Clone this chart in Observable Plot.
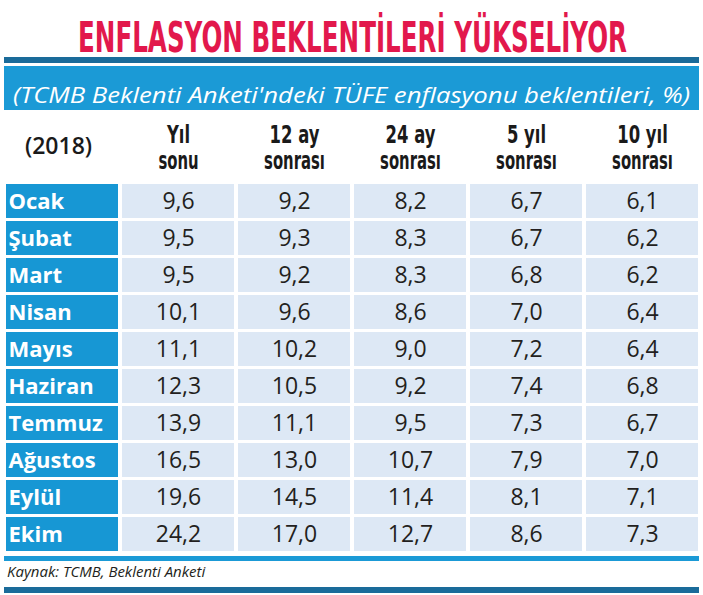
<!DOCTYPE html>
<html>
<head>
<meta charset="utf-8">
<script src="https://cdn.jsdelivr.net/npm/d3@7"></script>
<script src="https://cdn.jsdelivr.net/npm/@observablehq/plot@0.6"></script>
<style>
  body { margin: 0; background: #fff; width: 703px; height: 595px; overflow: hidden; font-family: "Open Sans", sans-serif; }
  #title { height: 57px; position: relative; width: 703px; }
  #title span { position: absolute; top: 16.5px; left: 0; white-space: nowrap; font-family: "DejaVu Sans Condensed", "DejaVu Sans"; font-stretch: condensed; font-weight: bold; font-size: 42px; line-height: 42px; color: #e2184c; transform-origin: 0 50%; }
  .darkbar { margin-left: 4px; width: 695px; height: 6px; background: #1a6b9a; }
  #band { margin-left: 4px; margin-top: 3px; width: 695px; height: 44px; background: #1b9ad6; position: relative; overflow: hidden; }
  #band span { position: absolute; left: 9px; top: 6px; white-space: nowrap; font-style: italic; font-size: 22px; line-height: 44px; color: #fff; transform-origin: 0 50%; }
  #chart svg { display: block; }
  .lightline { margin-left: 4px; margin-top: 1px; width: 695px; height: 5px; background: #1b9ad6; }
  #caption { height: 26px; position: relative; }
  #caption span { position: absolute; left: 7px; top: -3px; font-style: italic; font-size: 15px; line-height: 26px; color: #231f20; white-space: nowrap; }
</style>
</head>
<body>
<div id="title"><span>ENFLASYON BEKLENTİLERİ YÜKSELİYOR</span></div>
<div class="darkbar"></div>
<div id="band"><span>(TCMB Beklenti Anketi'ndeki TÜFE enflasyonu beklentileri, %)</span></div>
<div id="chart"></div>
<div class="lightline"></div>
<div id="caption"><span>Kaynak: TCMB, Beklenti Anketi</span></div>
<div class="darkbar"></div>
<script>
const yearLabel = "(2018)";
const months = ["Ocak","Şubat","Mart","Nisan","Mayıs","Haziran","Temmuz","Ağustos","Eylül","Ekim"];
const headerTop = ["Yıl","12 ay","24 ay","5 yıl","10 yıl"];
const headerBottom = ["sonu","sonrası","sonrası","sonrası","sonrası"];
const yilSonu = [9.6,9.5,9.5,10.1,11.1,12.3,13.9,16.5,19.6,24.2];
const ay12    = [9.2,9.3,9.2,9.6,10.2,10.5,11.1,13.0,14.5,17.0];
const ay24    = [8.2,8.3,8.3,8.6,9.0,9.2,9.5,10.7,11.4,12.7];
const yil5    = [6.7,6.7,6.8,7.0,7.2,7.4,7.3,7.9,8.1,8.6];
const yil10   = [6.1,6.2,6.2,6.4,6.4,6.8,6.7,7.0,7.1,7.3];

const series = [yilSonu, ay12, ay24, yil5, yil10];
const cols = [yearLabel, ...headerTop];
const valueCells = [];
months.forEach((m, i) => series.forEach((s, j) => valueCells.push({col: headerTop[j], month: m, v: s[i]})));
const fmt = v => v.toFixed(1).replace(".", ",");
const condensed = "'DejaVu Sans Condensed', 'DejaVu Sans', sans-serif";

const plot = Plot.plot({
  width: 703,
  height: 445,
  marginTop: 72,
  marginBottom: 1.5,
  marginLeft: 4,
  marginRight: 3,
  x: {type: "band", domain: cols, paddingInner: 0.035, paddingOuter: 0, axis: null},
  y: {type: "band", domain: months, paddingInner: 0.093, paddingOuter: 0, axis: null},
  style: {fontFamily: "'Open Sans', sans-serif", background: "white", overflow: "visible"},
  marks: [
    Plot.cell(months, {x: () => yearLabel, y: d => d, fill: "#1797d4"}),
    Plot.cell(valueCells, {x: "col", y: "month", fill: "#dde8f5"}),
    Plot.text(valueCells, {x: "col", y: "month", text: d => fmt(d.v), fontSize: 23, fill: "#231f20"}),
    Plot.text(months, {y: d => d, frameAnchor: "left", lineAnchor: "middle", dx: 4, textAnchor: "start", text: d => d, fill: "white", fontWeight: "bold", fontSize: 22}),
    Plot.text(headerTop, {x: d => d, frameAnchor: "top", lineAnchor: "middle", dy: -47.5, text: d => d, fontSize: 24, fontWeight: "bold", fontFamily: condensed, fill: "#1a1a1a"}),
    Plot.text(headerTop, {x: d => d, frameAnchor: "top", lineAnchor: "middle", dy: -21.5, text: (d, i) => headerBottom[i], fontSize: 25, fontWeight: "bold", fontFamily: condensed, fill: "#1a1a1a"}),
    Plot.text([yearLabel], {x: d => d, frameAnchor: "top", lineAnchor: "middle", dy: -36, dx: -4, text: d => d, fontSize: 23, fontWeight: 600, fill: "#1a1a1a"})
  ]
});

document.getElementById("chart").appendChild(plot);

function squeeze(strings, factor) {
  const set = new Set(strings);
  d3.select(plot).selectAll("text").each(function() {
    if (!set.has(this.textContent)) return;
    const len = this.getComputedTextLength();
    this.setAttribute("textLength", (len * factor).toFixed(1));
    this.setAttribute("lengthAdjust", "spacingAndGlyphs");
  });
}
squeeze(headerTop, 0.76);
squeeze(headerBottom, 0.66);

function fit(sel, target, left) {
  const el = document.querySelector(sel);
  const w = el.getBoundingClientRect().width;
  el.style.left = left + "px";
  el.style.transform = `scaleX(${target / w})`;
}
fit("#title span", 549, 78);
fit("#band span", 677, 9);
</script>
</body>
</html>
